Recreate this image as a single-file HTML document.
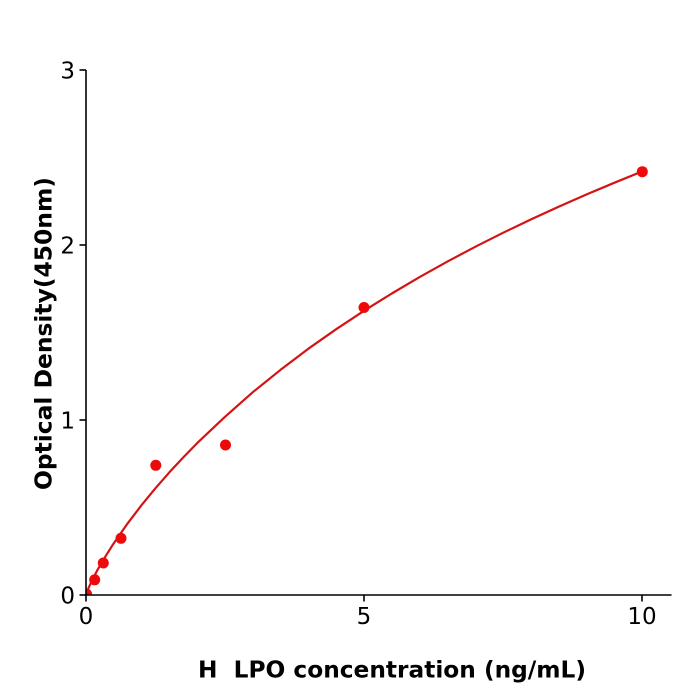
<!DOCTYPE html>
<html>
<head>
<meta charset="utf-8">
<style>
  html, body { margin:0; padding:0; background:#ffffff; }
  svg { display:block; }
  text { font-family: "DejaVu Sans", "Liberation Sans", sans-serif; fill:#000; }
</style>
</head>
<body>
<svg width="700" height="700" viewBox="0 0 700 700" xmlns="http://www.w3.org/2000/svg">
  <rect width="700" height="700" fill="#ffffff"/>
  <defs>
    <clipPath id="plot">
      <rect x="86" y="40" width="600" height="555"/>
    </clipPath>
  </defs>

  <!-- fitted curve -->
  <polyline clip-path="url(#plot)" fill="none" stroke="#d41414" stroke-width="2.2" stroke-linejoin="round"
    points="86,595 88.8,587.4 91.6,581.3 97.1,570.6 105.5,556.3 113.8,543.2 127.7,523.3 141.6,505.1 155.5,488.2 169.4,472.3 183.3,457.4 197.2,443.1 225,416.8 252.8,392.2 280.6,369.8 308.4,348.7 336.2,329.2 364,310.8 391.8,293.5 419.6,277.1 447.4,261.6 475.2,246.8 503,232.8 530.8,219.5 558.6,206.8 586.4,194.5 614.2,182.8 642,171.5"/>

  <!-- data points -->
  <g fill="#ee0a0a" clip-path="url(#plot)">
    <circle cx="86.5" cy="594" r="5.5"/>
    <circle cx="94.7" cy="579.8" r="5.5"/>
    <circle cx="103.3" cy="563" r="5.5"/>
    <circle cx="121" cy="538.3" r="5.5"/>
    <circle cx="155.8" cy="465.3" r="5.5"/>
    <circle cx="225.5" cy="445" r="5.5"/>
    <circle cx="364" cy="307.5" r="5.5"/>
    <circle cx="642.3" cy="171.7" r="5.5"/>
  </g>

  <!-- axes -->
  <g stroke="#000" stroke-width="1.6" fill="none">
    <line x1="86" y1="70" x2="86" y2="595.8"/>
    <line x1="85.2" y1="595" x2="671.5" y2="595"/>
    <!-- y ticks -->
    <line x1="79.5" y1="595" x2="86" y2="595"/>
    <line x1="79.5" y1="420" x2="86" y2="420"/>
    <line x1="79.5" y1="245" x2="86" y2="245"/>
    <line x1="79.5" y1="70" x2="86" y2="70"/>
    <!-- x ticks -->
    <line x1="86" y1="595" x2="86" y2="601.5"/>
    <line x1="364" y1="595" x2="364" y2="601.5"/>
    <line x1="642" y1="595" x2="642" y2="601.5"/>
  </g>

  <!-- tick labels -->
  <g font-size="23">
    <text x="75" y="603.4" text-anchor="end">0</text>
    <text x="75" y="428.4" text-anchor="end">1</text>
    <text x="75" y="253.4" text-anchor="end">2</text>
    <text x="75" y="78.4" text-anchor="end">3</text>
    <text x="86" y="624" text-anchor="middle">0</text>
    <text x="364" y="624" text-anchor="middle">5</text>
    <text x="642" y="624" text-anchor="middle">10</text>
  </g>

  <!-- axis labels -->
  <text x="392" y="677.5" font-size="23" font-weight="bold" text-anchor="middle" textLength="388" lengthAdjust="spacingAndGlyphs">H&#160; LPO concentration (ng/mL)</text>
  <text transform="translate(51.5,333.5) rotate(-90)" font-size="23" font-weight="bold" text-anchor="middle" textLength="313" lengthAdjust="spacingAndGlyphs">Optical Density(450nm)</text>
</svg>
</body>
</html>
